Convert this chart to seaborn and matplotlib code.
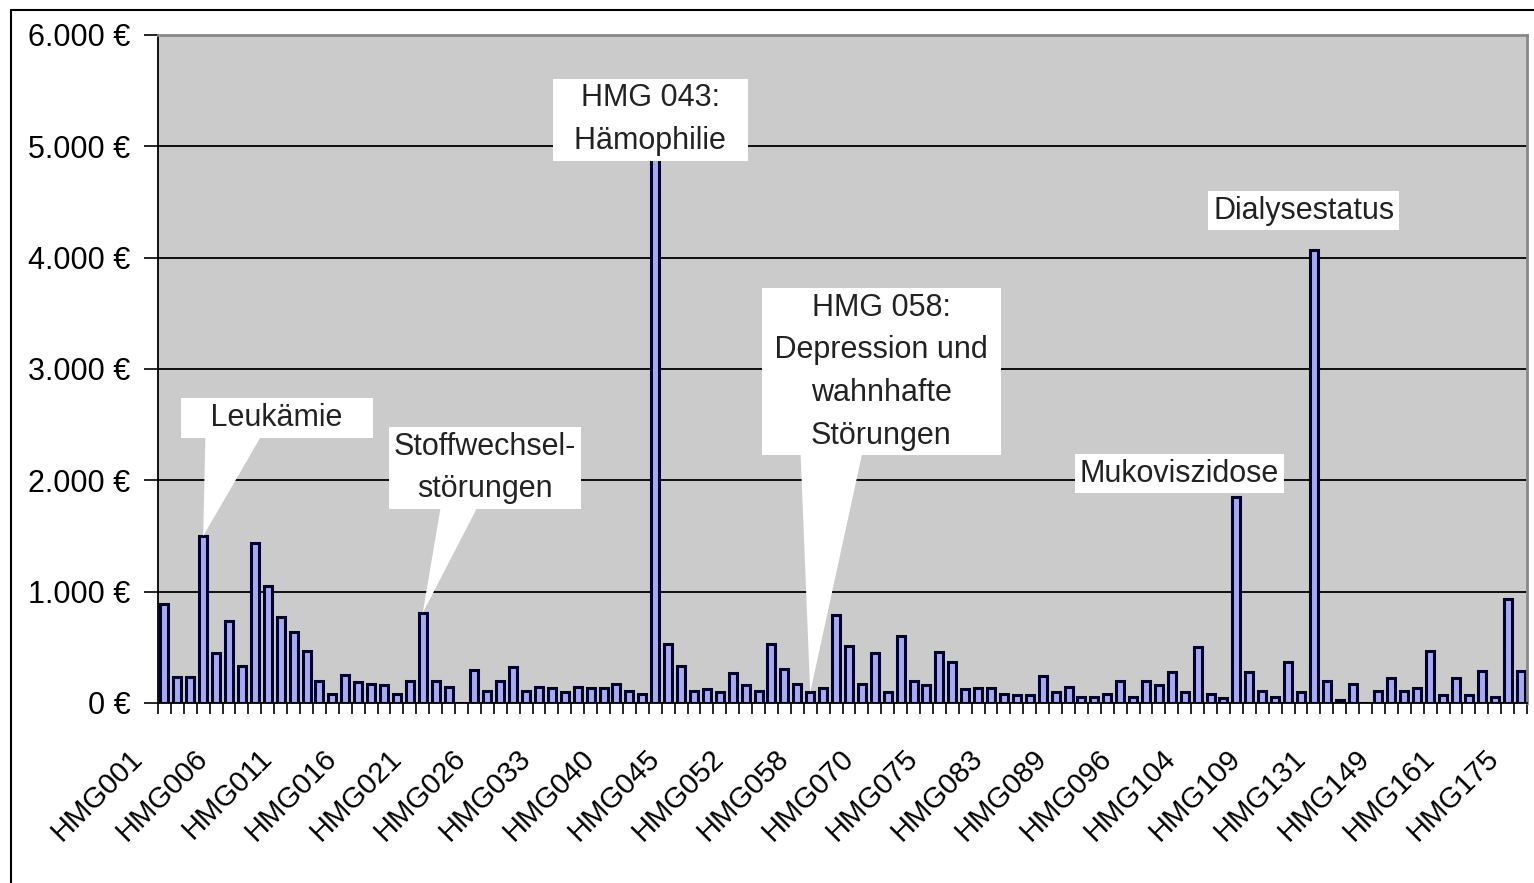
import numpy as np
import pandas as pd
import matplotlib
matplotlib.use("Agg")
import matplotlib.pyplot as plt
import matplotlib.transforms as mtransforms
from matplotlib.patches import Polygon
from matplotlib.ticker import FuncFormatter
import seaborn as sns

# HMG codes along the x axis (only every 5th is labelled in the chart)
hmg_codes = [
    1, 2, 3, 4, 5, 6, 7, 8, 9, 10, 11, 12, 13, 14, 15, 16, 17, 18, 19, 20,
    21, 22, 23, 24, 25, 26, 27, 28, 30, 31, 33, 34, 35, 36, 38, 40, 41, 42,
    43, 44, 45, 46, 48, 49, 51, 52, 53, 54, 55, 56, 58, 60, 63, 65, 68, 70,
    71, 72, 73, 74, 75, 76, 78, 79, 81, 83, 84, 85, 86, 88, 89, 90, 91, 93,
    94, 96, 97, 99, 100, 102, 104, 105, 106, 107, 108, 109, 110, 111, 119,
    130, 131, 134, 137, 141, 145, 149, 150, 152, 155, 158, 161, 163, 166,
    169, 172, 175,
]
categories = [f"HMG{c:03d}" for c in hmg_codes]

# Euro per HMG
costs = [
    890, 235, 235, 1500, 445, 740, 330, 1440, 1055, 775,
    635, 465, 200, 80, 250, 185, 175, 160, 80, 200,
    810, 200, 145, 0, 295, 110, 200, 320, 110, 145,
    135, 95, 145, 135, 135, 170, 110, 85, 5300, 530,
    330, 110, 125, 95, 265, 160, 110, 530, 305, 170,
    95, 135, 790, 515, 170, 445, 95, 605, 200, 160,
    460, 370, 125, 135, 135, 85, 70, 70, 240, 95,
    145, 55, 55, 85, 200, 55, 200, 160, 280, 95,
    500, 85, 45, 1850, 280, 110, 55, 370, 95, 4070,
    200, 25, 175, 0, 110, 225, 110, 135, 465, 70,
    225, 70, 290, 55, 935, 285,
]

callout_texts = [
    "   Leukämie   ",
    "Stoffwechsel-\nstörungen",
    "HMG 043:\n  Hämophilie  ",
    "HMG 058:\n Depression und \nwahnhafte\nStörungen",
    "Mukoviszidose",
    "Dialysestatus",
]
callout_targets = ["HMG004", "HMG021", None, "HMG058", None, None]
callout_pos = [(8.7, 2560), (24.8, 2110), (37.6, 5240), (55.5, 2975),
               (78.6, 2060), (88.2, 4420)]
# x range of the pointer base (at the box centre height)
callout_base = [(3.2, 8.3), (21.9, 25.8), None, (49.0, 55.4), None, None]

sns.set_theme(style="white")
plt.rcParams["font.family"] = ["Liberation Sans", "DejaVu Sans"]

fig = plt.figure(figsize=(15.34, 8.83), dpi=100)
ax = fig.add_axes([158 / 1534, 180 / 883, 1369 / 1534, 668 / 883])

df = pd.DataFrame({"hmg": categories, "cost": costs})
sns.barplot(data=df, x="hmg", y="cost", order=categories, color="#a9a9ee",
            saturation=1, width=0.62, edgecolor="#000033", linewidth=2.2, ax=ax)

ax.set_facecolor("#cbcbcb")
ax.set_xlim(-0.5, len(categories) - 0.5)
ax.set_ylim(0, 6000)
ax.set_xlabel("")
ax.set_ylabel("")
ax.set_yticks(range(0, 6001, 1000))
ax.yaxis.set_major_formatter(
    FuncFormatter(lambda v, p: f"{v:,.0f} €".replace(",", ".")))
ax.yaxis.grid(True, color="black", lw=1.3)
ax.set_axisbelow(True)

label_idx = list(range(0, len(categories), 5))
ax.set_xticks(label_idx)
ax.set_xticklabels([categories[i] for i in label_idx], rotation=45, ha="right",
                   va="center", rotation_mode="anchor", fontsize=21, color="black")
ax.set_xticks(np.arange(-0.5, len(categories)), minor=True)
ax.tick_params(axis="x", which="major", length=0, pad=0)
ax.tick_params(axis="x", which="minor", bottom=True, length=8, width=1.2,
               color="black", direction="out")
ax.tick_params(axis="y", left=True, length=10, width=1.2, pad=10, labelsize=22,
               color="black", labelcolor="black", direction="out")

offset = mtransforms.ScaledTranslation(-0.26, -0.51, fig.dpi_scale_trans)
for lbl in ax.get_xticklabels():
    lbl.set_transform(lbl.get_transform() + offset)

for side in ["left", "bottom"]:
    ax.spines[side].set_color("black")
    ax.spines[side].set_linewidth(1.3)
for side in ["top", "right"]:
    ax.spines[side].set_color("#888888")
    ax.spines[side].set_linewidth(2)

box = dict(boxstyle="square,pad=0.15", fc="white", ec="none")
for text, target, (px, py), base in zip(callout_texts, callout_targets,
                                        callout_pos, callout_base):
    if target is not None:
        i = categories.index(target)
        ax.add_patch(Polygon([(base[0], py), (base[1], py), (i, costs[i])],
                             closed=True, fc="white", ec="none", zorder=4))
    ax.text(px, py, text, ha="center", va="center", fontsize=22,
            color="#222222", linespacing=1.55, bbox=box, zorder=5)

# outer chart frame
fig.add_artist(plt.Line2D([11 / 1534, 11 / 1534], [0, 873 / 883],
                          transform=fig.transFigure, color="black", lw=1.5))
fig.add_artist(plt.Line2D([11 / 1534, 1], [873 / 883, 873 / 883],
                          transform=fig.transFigure, color="black", lw=1.5))

fig.savefig("out.png", dpi=100)
